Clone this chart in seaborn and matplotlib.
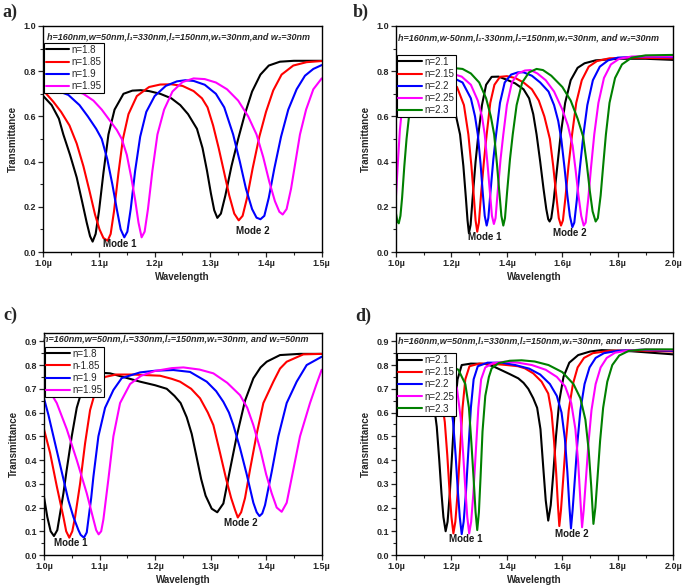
import matplotlib
matplotlib.use('Agg')
import matplotlib.pyplot as plt
import seaborn as sns
import pandas as pd
from matplotlib.ticker import MultipleLocator, FuncFormatter

# ---- panel a) : w2=30nm, n = 1.8 .. 1.95  (wavelength in um, transmittance)
a_labels = ['n=1.8', 'n=1.85', 'n=1.9', 'n=1.95']
a_n180 = [(1.000, 0.690), (1.015, 0.650), (1.028, 0.590), (1.036, 0.520), (1.048, 0.430), (1.060, 0.330),
          (1.070, 0.220), (1.078, 0.130), (1.084, 0.070), (1.0886, 0.046), (1.094, 0.080), (1.100, 0.180),
          (1.108, 0.350), (1.117, 0.520), (1.128, 0.630), (1.144, 0.700), (1.160, 0.714), (1.175, 0.716),
          (1.190, 0.712), (1.210, 0.700), (1.230, 0.680), (1.246, 0.650), (1.260, 0.610), (1.276, 0.545),
          (1.286, 0.460), (1.294, 0.360), (1.301, 0.260), (1.307, 0.185), (1.3126, 0.151), (1.319, 0.170),
          (1.327, 0.250), (1.338, 0.380), (1.350, 0.500), (1.362, 0.610), (1.375, 0.710), (1.390, 0.785),
          (1.405, 0.825), (1.425, 0.842), (1.450, 0.846), (1.500, 0.846)]
a_n185 = [(1.000, 0.715), (1.018, 0.665), (1.032, 0.620), (1.047, 0.560), (1.060, 0.480), (1.072, 0.380),
          (1.083, 0.270), (1.093, 0.165), (1.101, 0.100), (1.108, 0.062), (1.1156, 0.050), (1.121, 0.080),
          (1.127, 0.180), (1.135, 0.350), (1.143, 0.500), (1.153, 0.610), (1.168, 0.690), (1.190, 0.730),
          (1.210, 0.741), (1.230, 0.742), (1.250, 0.735), (1.270, 0.712), (1.285, 0.680), (1.295, 0.640),
          (1.305, 0.560), (1.315, 0.460), (1.325, 0.350), (1.334, 0.250), (1.343, 0.170), (1.351, 0.140),
          (1.358, 0.160), (1.366, 0.240), (1.376, 0.370), (1.388, 0.510), (1.400, 0.620), (1.413, 0.715),
          (1.428, 0.785), (1.449, 0.825), (1.473, 0.840), (1.500, 0.845)]
a_n190 = [(1.000, 0.730), (1.020, 0.718), (1.045, 0.695), (1.065, 0.650), (1.080, 0.600), (1.095, 0.545),
          (1.105, 0.500), (1.115, 0.410), (1.124, 0.300), (1.132, 0.190), (1.139, 0.100), (1.1455, 0.065),
          (1.151, 0.090), (1.157, 0.190), (1.165, 0.360), (1.174, 0.510), (1.185, 0.620), (1.200, 0.690),
          (1.220, 0.735), (1.240, 0.755), (1.255, 0.760), (1.270, 0.757), (1.290, 0.740), (1.310, 0.700),
          (1.325, 0.640), (1.341, 0.520), (1.353, 0.400), (1.364, 0.280), (1.375, 0.190), (1.383, 0.152),
          (1.390, 0.145), (1.397, 0.160), (1.405, 0.240), (1.415, 0.370), (1.427, 0.510), (1.440, 0.630),
          (1.455, 0.720), (1.470, 0.780), (1.485, 0.810), (1.500, 0.827)]
a_n195 = [(1.000, 0.745), (1.030, 0.730), (1.055, 0.715), (1.072, 0.700), (1.090, 0.670), (1.105, 0.630),
          (1.120, 0.580), (1.132, 0.540), (1.141, 0.500), (1.150, 0.430), (1.158, 0.330), (1.165, 0.230),
          (1.171, 0.130), (1.1766, 0.065), (1.182, 0.090), (1.188, 0.190), (1.196, 0.360), (1.205, 0.520),
          (1.217, 0.630), (1.232, 0.710), (1.250, 0.752), (1.270, 0.768), (1.290, 0.765), (1.310, 0.750),
          (1.330, 0.720), (1.350, 0.670), (1.368, 0.600), (1.383, 0.520), (1.395, 0.420), (1.406, 0.310),
          (1.416, 0.225), (1.424, 0.178), (1.430, 0.166), (1.437, 0.190), (1.445, 0.280), (1.453, 0.400),
          (1.461, 0.520), (1.472, 0.630), (1.485, 0.720), (1.500, 0.768)]

# ---- panel b) : w2=30nm, n = 2.1 .. 2.3
b_labels = ['n=2.1', 'n=2.15', 'n=2.2', 'n=2.25', 'n=2.3']
b_n210 = [(1.000, 0.780), (1.050, 0.782), (1.100, 0.780), (1.150, 0.760), (1.180, 0.730), (1.200, 0.680),
          (1.215, 0.610), (1.231, 0.520), (1.243, 0.380), (1.252, 0.240), (1.258, 0.140), (1.263, 0.083),
          (1.269, 0.120), (1.277, 0.250), (1.287, 0.400), (1.297, 0.520), (1.310, 0.650), (1.325, 0.740),
          (1.345, 0.775), (1.370, 0.776), (1.400, 0.762), (1.430, 0.746), (1.460, 0.720), (1.480, 0.680),
          (1.495, 0.610), (1.507, 0.520), (1.520, 0.400), (1.532, 0.280), (1.542, 0.190), (1.549, 0.145),
          (1.554, 0.135), (1.560, 0.150), (1.568, 0.220), (1.580, 0.360), (1.594, 0.520), (1.610, 0.660),
          (1.630, 0.760), (1.655, 0.815), (1.680, 0.835), (1.720, 0.848), (1.800, 0.855), (1.900, 0.855),
          (2.000, 0.850)]
b_n215 = [(1.000, 0.776), (1.050, 0.785), (1.120, 0.785), (1.180, 0.770), (1.220, 0.730), (1.245, 0.650),
          (1.261, 0.520), (1.272, 0.380), (1.281, 0.240), (1.287, 0.140), (1.293, 0.090), (1.299, 0.130),
          (1.307, 0.260), (1.317, 0.400), (1.327, 0.520), (1.340, 0.660), (1.355, 0.740), (1.375, 0.775),
          (1.400, 0.778), (1.430, 0.770), (1.460, 0.750), (1.490, 0.720), (1.515, 0.670), (1.535, 0.600),
          (1.555, 0.500), (1.567, 0.380), (1.578, 0.250), (1.587, 0.150), (1.595, 0.117), (1.602, 0.140),
          (1.611, 0.240), (1.622, 0.380), (1.635, 0.520), (1.650, 0.660), (1.670, 0.760), (1.695, 0.820),
          (1.725, 0.845), (1.770, 0.857), (1.850, 0.860), (2.000, 0.857)]
b_n220 = [(1.000, 0.600), (1.010, 0.680), (1.020, 0.740), (1.035, 0.775), (1.060, 0.790), (1.120, 0.790),
          (1.190, 0.780), (1.240, 0.750), (1.270, 0.680), (1.285, 0.600), (1.295, 0.520), (1.305, 0.390),
          (1.313, 0.260), (1.320, 0.160), (1.327, 0.117), (1.333, 0.150), (1.341, 0.270), (1.351, 0.410),
          (1.361, 0.520), (1.375, 0.660), (1.392, 0.750), (1.415, 0.785), (1.440, 0.795), (1.460, 0.795),
          (1.490, 0.780), (1.520, 0.750), (1.550, 0.710), (1.570, 0.650), (1.585, 0.580), (1.596, 0.500),
          (1.608, 0.370), (1.618, 0.250), (1.627, 0.160), (1.636, 0.110), (1.643, 0.130), (1.652, 0.230),
          (1.663, 0.370), (1.676, 0.520), (1.690, 0.650), (1.710, 0.760), (1.735, 0.820), (1.765, 0.848),
          (1.800, 0.860), (1.900, 0.865), (2.000, 0.862)]
b_n225 = [(1.000, 0.250), (1.007, 0.400), (1.014, 0.540), (1.022, 0.640), (1.030, 0.710), (1.045, 0.765),
          (1.070, 0.790), (1.130, 0.800), (1.200, 0.790), (1.237, 0.776), (1.270, 0.740), (1.295, 0.670),
          (1.310, 0.600), (1.320, 0.520), (1.330, 0.390), (1.339, 0.260), (1.346, 0.160), (1.353, 0.124),
          (1.359, 0.150), (1.367, 0.270), (1.377, 0.410), (1.387, 0.520), (1.400, 0.650), (1.418, 0.750),
          (1.440, 0.790), (1.465, 0.803), (1.485, 0.805), (1.510, 0.790), (1.540, 0.760), (1.570, 0.710),
          (1.600, 0.630), (1.620, 0.560), (1.637, 0.470), (1.648, 0.360), (1.658, 0.250), (1.668, 0.160),
          (1.677, 0.117), (1.684, 0.130), (1.693, 0.230), (1.703, 0.370), (1.715, 0.520), (1.730, 0.660),
          (1.750, 0.770), (1.775, 0.830), (1.805, 0.855), (1.850, 0.865), (2.000, 0.865)]
b_n230 = [(1.000, 0.170), (1.005, 0.135), (1.010, 0.127), (1.016, 0.160), (1.022, 0.240), (1.030, 0.380),
          (1.038, 0.500), (1.046, 0.590), (1.058, 0.680), (1.075, 0.750), (1.100, 0.790), (1.150, 0.810),
          (1.200, 0.815), (1.240, 0.810), (1.270, 0.790), (1.300, 0.750), (1.325, 0.680), (1.342, 0.600),
          (1.354, 0.520), (1.364, 0.390), (1.373, 0.260), (1.380, 0.160), (1.387, 0.117), (1.393, 0.150),
          (1.401, 0.270), (1.411, 0.410), (1.421, 0.520), (1.435, 0.650), (1.455, 0.750), (1.480, 0.795),
          (1.507, 0.810), (1.530, 0.805), (1.560, 0.780), (1.600, 0.730), (1.630, 0.670), (1.655, 0.590),
          (1.675, 0.510), (1.688, 0.390), (1.699, 0.270), (1.709, 0.180), (1.720, 0.135), (1.728, 0.150),
          (1.738, 0.250), (1.747, 0.380), (1.757, 0.520), (1.770, 0.660), (1.790, 0.770), (1.815, 0.830),
          (1.850, 0.860), (1.900, 0.870), (2.000, 0.872)]

# ---- panel c) : w2=50nm, n = 1.8 .. 1.95
c_labels = ['n=1.8', 'n-1.85', 'n=1.9', 'n=1.95']
c_n180 = [(1.000, 0.245), (1.006, 0.160), (1.012, 0.100), (1.018, 0.080), (1.024, 0.105), (1.029, 0.175),
          (1.035, 0.260), (1.041, 0.360), (1.050, 0.500), (1.059, 0.620), (1.071, 0.715), (1.085, 0.755),
          (1.100, 0.768), (1.119, 0.765), (1.150, 0.745), (1.173, 0.730), (1.200, 0.715), (1.221, 0.700),
          (1.235, 0.670), (1.246, 0.640), (1.257, 0.580), (1.266, 0.510), (1.275, 0.410), (1.283, 0.320),
          (1.291, 0.250), (1.302, 0.195), (1.312, 0.180), (1.323, 0.217), (1.335, 0.360), (1.347, 0.500),
          (1.362, 0.650), (1.377, 0.744), (1.390, 0.790), (1.401, 0.814), (1.425, 0.842), (1.460, 0.847),
          (1.500, 0.847)]
c_n185 = [(1.000, 0.530), (1.011, 0.430), (1.023, 0.290), (1.035, 0.160), (1.040, 0.100), (1.0456, 0.073),
          (1.051, 0.100), (1.056, 0.160), (1.065, 0.300), (1.074, 0.470), (1.083, 0.610), (1.095, 0.710),
          (1.110, 0.750), (1.130, 0.760), (1.160, 0.760), (1.190, 0.757), (1.209, 0.755), (1.230, 0.742),
          (1.245, 0.730), (1.265, 0.700), (1.281, 0.660), (1.295, 0.600), (1.305, 0.547), (1.317, 0.430),
          (1.328, 0.320), (1.337, 0.240), (1.344, 0.190), (1.349, 0.158), (1.355, 0.180), (1.362, 0.240),
          (1.371, 0.360), (1.383, 0.510), (1.395, 0.640), (1.413, 0.730), (1.425, 0.785), (1.437, 0.814),
          (1.467, 0.845), (1.500, 0.847)]
c_n190 = [(1.000, 0.660), (1.008, 0.590), (1.017, 0.500), (1.026, 0.410), (1.035, 0.320), (1.044, 0.230),
          (1.053, 0.160), (1.062, 0.105), (1.066, 0.085), (1.072, 0.073), (1.077, 0.095), (1.080, 0.150),
          (1.085, 0.240), (1.089, 0.330), (1.098, 0.500), (1.110, 0.620), (1.125, 0.695), (1.140, 0.745),
          (1.173, 0.769), (1.200, 0.776), (1.233, 0.779), (1.263, 0.771), (1.293, 0.730), (1.310, 0.690),
          (1.323, 0.645), (1.333, 0.600), (1.341, 0.547), (1.353, 0.450), (1.365, 0.340), (1.377, 0.220),
          (1.383, 0.180), (1.388, 0.164), (1.393, 0.175), (1.398, 0.210), (1.410, 0.350), (1.422, 0.500),
          (1.437, 0.640), (1.455, 0.730), (1.473, 0.800), (1.500, 0.835)]
c_n195 = [(1.000, 0.730), (1.023, 0.640), (1.041, 0.530), (1.059, 0.400), (1.077, 0.260), (1.089, 0.150),
          (1.094, 0.105), (1.0984, 0.087), (1.103, 0.100), (1.107, 0.150), (1.116, 0.320), (1.125, 0.500),
          (1.137, 0.640), (1.155, 0.720), (1.175, 0.755), (1.200, 0.775), (1.230, 0.787), (1.251, 0.790),
          (1.280, 0.781), (1.305, 0.765), (1.330, 0.725), (1.353, 0.673), (1.366, 0.620), (1.377, 0.547),
          (1.390, 0.440), (1.400, 0.340), (1.410, 0.260), (1.419, 0.200), (1.428, 0.182), (1.437, 0.220),
          (1.449, 0.360), (1.461, 0.500), (1.479, 0.640), (1.490, 0.715), (1.500, 0.780)]

# ---- panel d) : w2=50nm, n = 2.1 .. 2.3
d_labels = ['n=2.1', 'n=2.15', 'n=2.2', 'n=2.25', 'n=2.3']
d_n210 = [(1.000, 0.790), (1.050, 0.790), (1.090, 0.770), (1.115, 0.730), (1.134, 0.660), (1.147, 0.540),
          (1.156, 0.400), (1.164, 0.260), (1.171, 0.160), (1.179, 0.100), (1.186, 0.140), (1.194, 0.260),
          (1.203, 0.440), (1.212, 0.620), (1.222, 0.740), (1.237, 0.800), (1.270, 0.806), (1.320, 0.805),
          (1.350, 0.795), (1.381, 0.778), (1.410, 0.762), (1.441, 0.744), (1.460, 0.725), (1.477, 0.700),
          (1.495, 0.660), (1.509, 0.620), (1.521, 0.530), (1.531, 0.370), (1.540, 0.230), (1.549, 0.145),
          (1.558, 0.210), (1.567, 0.340), (1.577, 0.500), (1.589, 0.650), (1.604, 0.750), (1.625, 0.810),
          (1.657, 0.842), (1.700, 0.857), (1.742, 0.863), (1.850, 0.858), (2.000, 0.845)]
d_n215 = [(1.000, 0.800), (1.060, 0.800), (1.110, 0.785), (1.140, 0.750), (1.162, 0.680), (1.176, 0.560),
          (1.185, 0.420), (1.193, 0.270), (1.200, 0.160), (1.207, 0.091), (1.214, 0.140), (1.222, 0.260),
          (1.231, 0.440), (1.240, 0.620), (1.250, 0.740), (1.265, 0.795), (1.300, 0.806), (1.350, 0.805),
          (1.400, 0.800), (1.440, 0.795), (1.465, 0.786), (1.495, 0.765), (1.525, 0.730), (1.549, 0.680),
          (1.561, 0.600), (1.570, 0.480), (1.578, 0.340), (1.584, 0.210), (1.589, 0.122), (1.595, 0.190),
          (1.603, 0.320), (1.612, 0.470), (1.623, 0.610), (1.638, 0.720), (1.655, 0.790), (1.678, 0.830),
          (1.710, 0.850), (1.770, 0.860), (1.850, 0.862), (2.000, 0.857)]
d_n220 = [(1.000, 0.800), (1.080, 0.805), (1.140, 0.790), (1.170, 0.760), (1.192, 0.680), (1.206, 0.560),
          (1.215, 0.420), (1.223, 0.270), (1.230, 0.160), (1.237, 0.088), (1.244, 0.140), (1.252, 0.260),
          (1.261, 0.440), (1.270, 0.620), (1.280, 0.740), (1.295, 0.795), (1.330, 0.810), (1.380, 0.810),
          (1.430, 0.800), (1.480, 0.785), (1.520, 0.760), (1.555, 0.720), (1.580, 0.670), (1.597, 0.600),
          (1.609, 0.490), (1.618, 0.350), (1.625, 0.210), (1.631, 0.112), (1.637, 0.190), (1.645, 0.320),
          (1.654, 0.470), (1.665, 0.610), (1.680, 0.720), (1.698, 0.790), (1.720, 0.830), (1.750, 0.850),
          (1.800, 0.860), (1.880, 0.864), (2.000, 0.860)]
d_n225 = [(1.000, 0.800), (1.100, 0.810), (1.170, 0.800), (1.200, 0.770), (1.220, 0.700), (1.233, 0.580),
          (1.242, 0.430), (1.250, 0.280), (1.257, 0.160), (1.264, 0.091), (1.271, 0.140), (1.279, 0.260),
          (1.288, 0.440), (1.297, 0.620), (1.307, 0.740), (1.322, 0.790), (1.350, 0.808), (1.393, 0.814),
          (1.440, 0.810), (1.490, 0.800), (1.540, 0.780), (1.580, 0.750), (1.610, 0.710), (1.632, 0.640),
          (1.647, 0.530), (1.657, 0.390), (1.665, 0.230), (1.671, 0.117), (1.677, 0.190), (1.685, 0.320),
          (1.694, 0.470), (1.705, 0.610), (1.720, 0.720), (1.738, 0.790), (1.760, 0.830), (1.790, 0.852),
          (1.840, 0.862), (1.900, 0.865), (2.000, 0.863)]
d_n230 = [(1.000, 0.800), (1.100, 0.810), (1.190, 0.800), (1.225, 0.780), (1.250, 0.720), (1.263, 0.620),
          (1.272, 0.470), (1.280, 0.320), (1.287, 0.180), (1.293, 0.105), (1.299, 0.180), (1.305, 0.330),
          (1.312, 0.520), (1.322, 0.670), (1.335, 0.750), (1.345, 0.786), (1.370, 0.808), (1.410, 0.818),
          (1.453, 0.820), (1.500, 0.815), (1.550, 0.800), (1.600, 0.770), (1.640, 0.720), (1.665, 0.660),
          (1.683, 0.570), (1.695, 0.440), (1.704, 0.290), (1.712, 0.131), (1.719, 0.200), (1.727, 0.330),
          (1.736, 0.480), (1.747, 0.620), (1.762, 0.730), (1.780, 0.800), (1.805, 0.840), (1.840, 0.860),
          (1.900, 0.866), (2.000, 0.866)]

titles = ['h=160nm,w=50nm,l\u2081=330nm,l\u2082=150nm,w\u2081=30nm,and w\u2082=30nm',
          'h=160nm,w-50nm,l\u2081-330nm,l\u2082=150nm,w\u2081=30nm, and w\u2082=30nm',
          'h=160nm,w=50nm,l\u2081=330nm,l\u2082=150nm,w\u2081=30nm, and w\u2082=50nm',
          'h=160nm,w=50nm,l\u2081=330nm,l\u2082=150nm,w\u2081=30nm, and w\u2082=50nm']
letters = ['a)', 'b)', 'c)', 'd)']
colors = ['black', 'red', 'blue', 'magenta', 'green']

sns.set_theme(style='ticks')
plt.rcParams['font.family'] = ['Liberation Sans', 'DejaVu Sans']
plt.rcParams['font.weight'] = 'bold'
plt.rcParams['axes.labelweight'] = 'bold'
plt.rcParams['axes.linewidth'] = 1.0
plt.rcParams['axes.edgecolor'] = 'black'


def to_frame(curves, labels):
    rows = []
    for pts, lab in zip(curves, labels):
        for lam, t in pts:
            rows.append((lam, t, lab))
    return pd.DataFrame(rows, columns=['lam', 'T', 'n'])


panels = [
    dict(curves=[a_n180, a_n185, a_n190, a_n195], labels=a_labels, xmax=1.5, ymax=1.0,
         pos=[0.0632, 0.5714, 0.4064, 0.3844], leg_y=0.925, title_x=0.012, title_y=0.952,
         modes=[(1.138, 0.035), (1.376, 0.093)], letter=(0.003, 0.979)),
    dict(curves=[b_n210, b_n215, b_n220, b_n225, b_n230], labels=b_labels, xmax=2.0, ymax=1.0,
         pos=[0.5781, 0.5714, 0.4048, 0.3844], leg_y=0.872, title_x=0.008, title_y=0.946,
         modes=[(1.321, 0.066), (1.627, 0.085)], letter=(0.515, 0.979)),
    dict(curves=[c_n180, c_n185, c_n190, c_n195], labels=c_labels, xmax=1.5, ymax=0.935,
         pos=[0.0642, 0.0561, 0.4054, 0.3776], leg_y=0.938, title_x=-0.004, title_y=0.972,
         modes=[(1.048, 0.049), (1.355, 0.133)], letter=(0.005, 0.464)),
    dict(curves=[d_n210, d_n215, d_n220, d_n225, d_n230], labels=d_labels, xmax=2.0, ymax=0.935,
         pos=[0.5781, 0.0561, 0.4048, 0.3776], leg_y=0.909, title_x=0.008, title_y=0.965,
         modes=[(1.25, 0.066), (1.635, 0.088)], letter=(0.518, 0.462)),
]

fig = plt.figure(figsize=(6.85, 5.88), dpi=100)

for i, p in enumerate(panels):
    ax = fig.add_axes(p['pos'])
    df = to_frame(p['curves'], p['labels'])
    sns.lineplot(data=df, x='lam', y='T', hue='n', hue_order=p['labels'],
                 palette=colors[:len(p['labels'])], estimator=None, sort=False,
                 linewidth=1.5, ax=ax)
    ax.set_xlim(1.0, p['xmax'])
    ax.set_ylim(0.0, p['ymax'])

    if p['xmax'] == 1.5:
        ax.xaxis.set_major_locator(MultipleLocator(0.1))
        ax.xaxis.set_minor_locator(MultipleLocator(0.05))
    else:
        ax.xaxis.set_major_locator(MultipleLocator(0.2))
        ax.xaxis.set_minor_locator(MultipleLocator(0.1))
    if p['ymax'] == 1.0:
        ax.yaxis.set_major_locator(MultipleLocator(0.2))
        ax.yaxis.set_minor_locator(MultipleLocator(0.1))
    else:
        ax.yaxis.set_major_locator(MultipleLocator(0.1))
        ax.yaxis.set_minor_locator(MultipleLocator(0.05))
    ax.xaxis.set_major_formatter(FuncFormatter(lambda v, _: f'{v:.1f}\u00b5'))
    ax.yaxis.set_major_formatter(FuncFormatter(lambda v, _: f'{v:.1f}'))
    ax.tick_params(which='major', direction='out', length=3.5, width=0.9, labelsize=6.5, pad=1.5)
    ax.tick_params(which='minor', direction='out', length=2, width=0.8)
    for s in ax.spines.values():
        s.set_visible(True)
        s.set_linewidth(1.0)

    ax.set_xlabel('Wavelength', fontsize=7, fontweight='bold', labelpad=3)
    ax.set_ylabel('Transmittance', fontsize=7, fontweight='bold', labelpad=4)

    ax.text(p['title_x'], p['title_y'], titles[i], transform=ax.transAxes, ha='left', va='center',
            fontsize=6.5, fontweight='bold', fontstyle='italic')

    h, l = ax.get_legend_handles_labels()
    ax.legend(h, l, loc='upper left', bbox_to_anchor=(0.002, p['leg_y']), borderaxespad=0,
              frameon=True, fancybox=False, edgecolor='black', framealpha=1, facecolor='white',
              borderpad=0.2, labelspacing=0.22, handlelength=2.4, handletextpad=0.25,
              prop={'size': 7, 'weight': 'normal'})
    ax.get_legend().get_frame().set_linewidth(0.8)

    for k, (mx, my) in enumerate(p['modes']):
        ax.text(mx, my, f'Mode {k + 1}', ha='center', va='center', fontsize=7,
                fontweight='bold', color='#1a1a1a')

    fig.text(p['letter'][0], p['letter'][1], letters[i], ha='left', va='center',
             fontsize=13, fontweight='bold', family='Liberation Serif')

fig.savefig('out.png', dpi=100)
